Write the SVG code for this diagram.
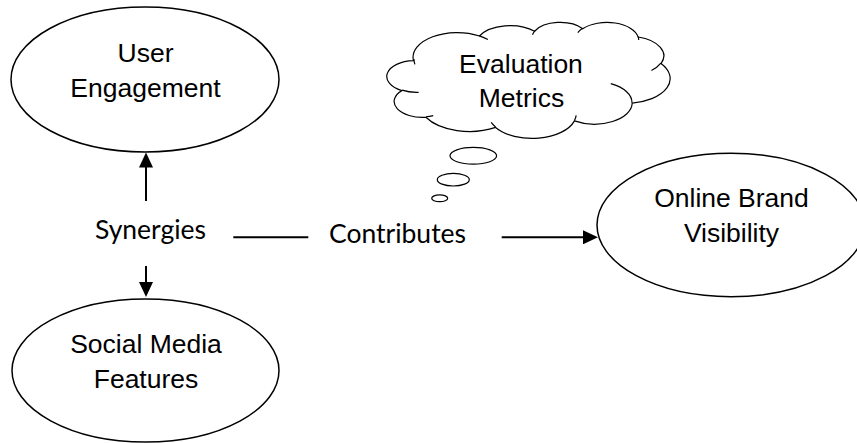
<svg xmlns="http://www.w3.org/2000/svg" width="857" height="443" viewBox="0 0 857 443">
  <style>
    .shape { fill: #ffffff; stroke: #000000; stroke-width: 1.5; }
    .cloud { fill: #ffffff; stroke: #000000; stroke-width: 1.2; }
    .inner { fill: none; stroke: #000000; stroke-width: 1.2; }
    .t { font-family: "Liberation Sans", Arial, sans-serif; font-size: 26.5px; fill: #000000; text-anchor: middle; }
    .lbl { font-family: Lato, "Liberation Sans", sans-serif; font-size: 26.5px; fill: #000000; text-anchor: middle; }
    .conn { fill: none; stroke: #000000; stroke-width: 2; }
  </style>
  <defs>
    <marker id="arrow" markerUnits="userSpaceOnUse" markerWidth="16" markerHeight="14" refX="3" refY="7" orient="auto">
      <path d="M0,0 L15,7 L0,14 Z" fill="#000000"/>
    </marker>
  </defs>
  <rect width="857" height="443" fill="#ffffff"/>

  <g id="node-user-engagement">
    <ellipse class="shape" cx="145" cy="79.5" rx="134" ry="72.5"/>
    <text class="t" x="145.5" y="62.3">User</text>
    <text class="t" x="145.5" y="96.7">Engagement</text>
  </g>

  <g id="node-social-media-features">
    <ellipse class="shape" cx="145.5" cy="370.5" rx="133.5" ry="71.5"/>
    <text class="t" x="146" y="353.3">Social Media</text>
    <text class="t" x="146" y="388.3">Features</text>
  </g>

  <g id="node-online-brand-visibility">
    <ellipse class="shape" cx="731" cy="225" rx="134" ry="71.7"/>
    <text class="t" x="731.5" y="207.3">Online Brand</text>
    <text class="t" x="731.5" y="241.7">Visibility</text>
  </g>

  <g id="node-evaluation-metrics">
    <path class="cloud" d="M413.46,60.59 A44.08,24.68 0 0 1 479.42,35.97 A34.81,19.51 0 0 1 534.60,31.23 A28.49,15.96 0 0 1 582.76,28.67 A31.71,17.71 0 0 1 638.15,36.98 A34.81,19.53 0 0 1 661.00,63.52 A44.23,24.76 0 0 1 632.19,103.11 A37.76,21.12 0 0 1 574.42,120.86 A44.08,24.74 0 0 1 495.60,127.44 A50.39,28.31 0 0 1 425.91,117.26 A28.46,15.89 0 0 1 401.81,90.62 A28.36,15.96 0 0 1 413.46,60.59 Z"/>
    <path class="inner" d="M418.63,92.29 A28.36,15.96 0 0 1 402.10,90.15 M433.22,115.71 A28.46,15.89 0 0 1 425.99,116.73 M495.57,126.97 A44.08,24.74 0 0 1 491.21,122.29 M576.18,115.31 A44.08,24.74 0 0 1 574.44,120.44 M610.79,83.64 A37.76,21.12 0 0 1 632.01,102.79 M660.85,63.23 A34.81,19.53 0 0 1 651.39,70.42 M638.17,36.57 A31.71,17.71 0 0 1 638.67,39.96 M577.82,32.61 A31.71,17.71 0 0 1 582.66,28.28 M532.53,34.67 A28.49,15.96 0 0 1 534.88,30.94 M479.39,35.94 A44.08,24.68 0 0 1 487.88,39.57 M414.94,64.40 A44.08,24.68 0 0 1 413.96,59.09"/>
    <ellipse class="cloud" cx="473.3" cy="155.8" rx="23.3" ry="8.4"/>
    <ellipse class="cloud" cx="453.3" cy="179.7" rx="16" ry="6.3"/>
    <ellipse class="cloud" cx="439.7" cy="198.3" rx="8" ry="3.4"/>
    <text class="t" x="521" y="72.7">Evaluation</text>
    <text class="t" x="521.5" y="107">Metrics</text>
  </g>

  <g id="node-synergies">
    <text class="lbl" x="150.5" y="239">Synergies</text>
  </g>

  <g id="node-contributes">
    <text class="lbl" x="397.5" y="242.5">Contributes</text>
  </g>

  <g id="connectors">
    <line class="conn" x1="146" y1="201" x2="146" y2="164.5" marker-end="url(#arrow)"/>
    <line class="conn" x1="146" y1="266" x2="146" y2="285" marker-end="url(#arrow)"/>
    <line class="conn" x1="233.3" y1="237.3" x2="308.3" y2="237.3"/>
    <line class="conn" x1="501.7" y1="237.3" x2="586" y2="237.3" marker-end="url(#arrow)"/>
  </g>
</svg>
